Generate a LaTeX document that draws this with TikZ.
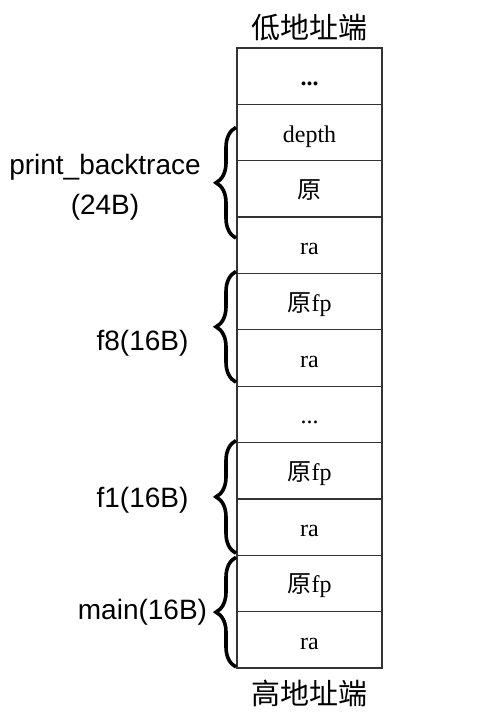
\documentclass[tikz,border=0pt]{standalone}
\usepackage{fontspec}
\setmainfont{Liberation Serif}
\setsansfont{Liberation Sans}
\newfontfamily\cjk{Noto Sans CJK SC}
\usetikzlibrary{positioning,calc,decorations.pathreplacing}

\begin{document}
\begin{tikzpicture}[x=1pt,y=-1pt,
  cell/.style={draw=black!80,line width=1.2pt,minimum width=145pt,minimum height=56.36pt,
    inner sep=0pt,outer sep=0pt,text height=23pt,text depth=4pt,font=\fontsize{24}{28}\selectfont},
  frame/.style={decorate,decoration={brace,amplitude=20pt,raise=1pt},line width=3.6pt},
  lbl/.style={font=\sffamily\fontsize{28}{40}\selectfont,align=center},
  hdr/.style={font=\cjk\fontsize{29}{32}\selectfont}]
\useasboundingbox (0,0) rectangle (484,719);
% the stack, low addresses on top
\node[cell] at (309.5,76.2) (c0) {\textbf{...}};
\node[cell,below=0pt of c0] (c1) {depth};
\node[cell,below=0pt of c1] (c2) {{\cjk 原}};
\node[cell,below=0pt of c2] (c3) {ra};
\node[cell,below=0pt of c3] (c4) {{\cjk 原}fp};
\node[cell,below=0pt of c4] (c5) {ra};
\node[cell,below=0pt of c5] (c6) {...};
\node[cell,below=0pt of c6] (c7) {{\cjk 原}fp};
\node[cell,below=0pt of c7] (c8) {ra};
\node[cell,below=0pt of c8] (c9) {{\cjk 原}fp};
\node[cell,below=0pt of c9] (c10) {ra};
\node[hdr] at ($(c0.north)+(0,-20)$) (lo) {低地址端};
\node[hdr] at ($(c10.south)+(0,25)$) (hi) {高地址端};
% frames
\draw[frame] ($(c3.north west)+(0,21)$) -- ($(c1.north west)+(0,23)$);
\draw[frame] ($(c5.south west)+(0,-4)$) -- ($(c4.north west)+(0,-2)$);
\draw[frame] ($(c8.south west)+(0,-2)$) -- ($(c7.north west)+(0,-2)$);
\draw[frame] ($(c10.south west)+(0,-1)$) -- ($(c9.north west)+(0,2)$);
\node[lbl] at ($(c2.west)+(-132,-2)$) (pbt) {print\_backtrace\\(24B)};
\node[lbl] at ($(c5.north west)+(-94.5,13)$) (f8) {f8(16B)};
\node[lbl] at ($(c8.north west)+(-94.5,1)$) (f1) {f1(16B)};
\node[lbl] at ($(c10.north west)+(-94.5,1)$) (mn) {main(16B)};
\end{tikzpicture}
\end{document}
